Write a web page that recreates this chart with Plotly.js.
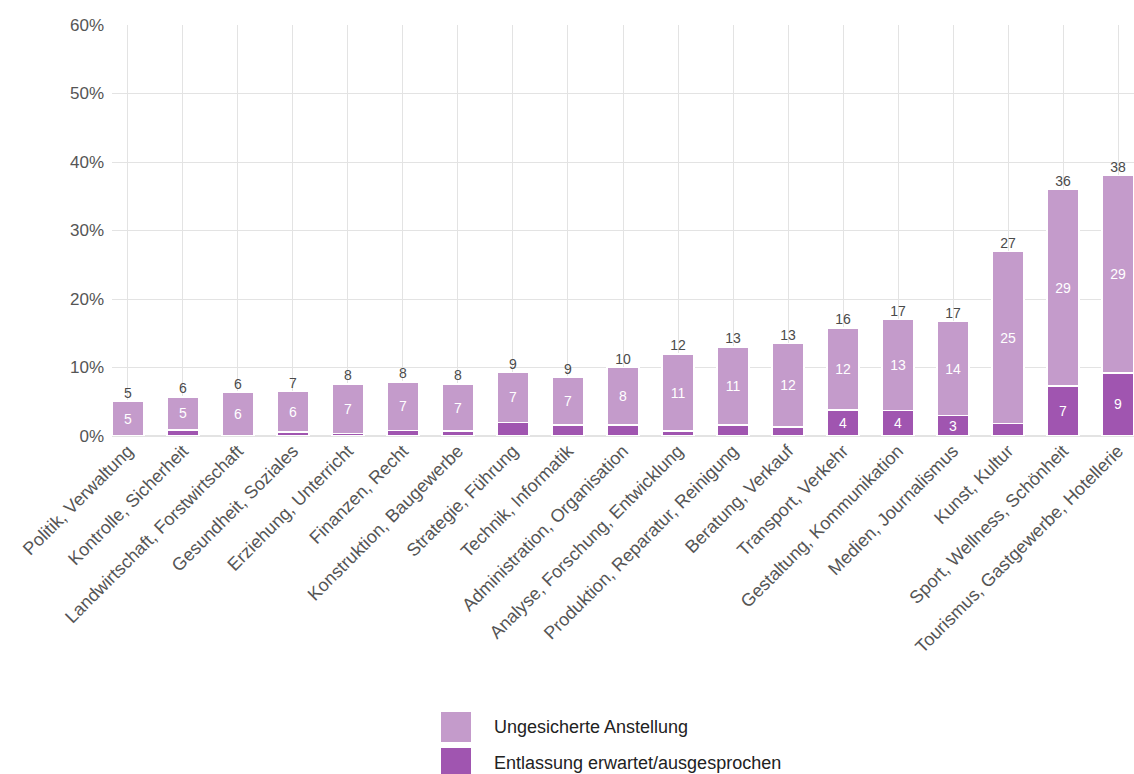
<!DOCTYPE html>
<html>
<head>
<meta charset="utf-8">
<script src="https://cdn.plot.ly/plotly-3.0.1.min.js"></script>
<style>html,body{margin:0;padding:0;background:#fff;}#chart{width:1134px;height:774px;}</style>
</head>
<body>
<div id="chart"></div>
<script>
var categories = ["Politik, Verwaltung","Kontrolle, Sicherheit","Landwirtschaft, Forstwirtschaft","Gesundheit, Soziales","Erziehung, Unterricht","Finanzen, Recht","Konstruktion, Baugewerbe","Strategie, Führung","Technik, Informatik","Administration, Organisation","Analyse, Forschung, Entwicklung","Produktion, Reparatur, Reinigung","Beratung, Verkauf","Transport, Verkehr","Gestaltung, Kommunikation","Medien, Journalismus","Kunst, Kultur","Sport, Wellness, Schönheit","Tourismus, Gastgewerbe, Hotellerie"];
var ungesichert = [5.1, 4.8, 6.4, 5.9, 7.2, 7.1, 6.9, 7.3, 7.0, 8.4, 11.3, 11.4, 12.2, 12.0, 13.3, 13.7, 25.1, 28.7, 28.8];
var entlassung = [0, 0.9, 0, 0.6, 0.4, 0.8, 0.7, 2.0, 1.6, 1.6, 0.7, 1.6, 1.3, 3.8, 3.7, 3.0, 1.8, 7.3, 9.2];
var totalLabels = ["5","6","6","7","8","8","8","9","9","10","12","13","13","16","17","17","27","36","38"];
var ungesichertLabels = ["5","5","6","6","7","7","7","7","7","8","11","11","12","12","13","14","25","29","29"];
var entlassungLabels = ["","","","","","","","","","","","","","4","4","3","","7","9"];
var seriesNames = ["Ungesicherte Anstellung", "Entlassung erwartet/ausgesprochen"];

var totals = ungesichert.map(function(v,i){return v + entlassung[i];});

var light = '#c49bcb', dark = '#a055b0';
var FONT = 'Liberation Sans, Arial, sans-serif';
var traces = [
  {type:'bar', name:seriesNames[1], x:categories, y:entlassung,
   marker:{color:dark, line:{color:'#fff', width:1.5}},
   text:entlassungLabels, textposition:'inside', insidetextanchor:'middle',
   textangle:0, constraintext:'none',
   textfont:{color:'#fff', size:14, family:FONT},
   hoverinfo:'y', showlegend:false},
  {type:'bar', name:seriesNames[0], x:categories, y:ungesichert,
   marker:{color:light, line:{color:'#fff', width:1.5}},
   text:ungesichertLabels, textposition:'inside', insidetextanchor:'middle',
   textangle:0, constraintext:'none',
   textfont:{color:'#fff', size:14, family:FONT},
   hoverinfo:'y', showlegend:false},
  {type:'scatter', mode:'text', x:categories, y:totals, text:totalLabels,
   textposition:'top center', showlegend:false, cliponaxis:false,
   textfont:{color:'#4a4a4a', size:14, family:FONT},
   hoverinfo:'skip'}
];

// custom legend (pixel positions converted to paper coords)
var L = 112, R = 1134, T = 25, B = 436, W = 1134, H = 774;
function px(x){ return (x - L) / (R - L); }
function py(y){ return (B - y) / (B - T); }
var legendItems = [
  {color: light, top: 712, label: seriesNames[0]},
  {color: dark, top: 748, label: seriesNames[1]}
];
var shapes = [], annotations = [];
legendItems.forEach(function(it){
  shapes.push({type:'rect', xref:'paper', yref:'paper', x0:px(441), x1:px(471),
    y0:py(it.top), y1:py(it.top + 30), fillcolor:it.color, line:{width:0}});
  annotations.push({xref:'paper', yref:'paper', x:px(492), y:py(it.top + 15),
    xanchor:'left', yanchor:'middle', text:it.label, showarrow:false,
    font:{size:18, color:'#222', family:FONT}});
});

var layout = {
  width:W, height:H,
  margin:{l:L, r:W - R, t:T, b:H - B},
  paper_bgcolor:'#fff', plot_bgcolor:'#fff',
  barmode:'stack', bargap:0.42,
  font:{family:FONT, color:'#444', size:17},
  xaxis:{type:'category', range:[-0.29,18.29], tickangle:-45, showgrid:true,
    gridcolor:'#e3e3e3', gridwidth:1, ticks:'', showline:false, automargin:false,
    tickfont:{size:18, color:'#555'}},
  yaxis:{range:[0,60], dtick:10, ticksuffix:'%', showgrid:true, gridcolor:'#e3e3e3',
    zeroline:true, zerolinecolor:'#e3e3e3', zerolinewidth:2, ticks:'', showline:false,
    automargin:false, ticklabelstandoff:7,
    tickfont:{size:17, color:'#555'}},
  shapes:shapes, annotations:annotations,
  showlegend:false
};

Plotly.newPlot('chart', traces, layout, {displayModeBar:false, staticPlot:true});
</script>
</body>
</html>
